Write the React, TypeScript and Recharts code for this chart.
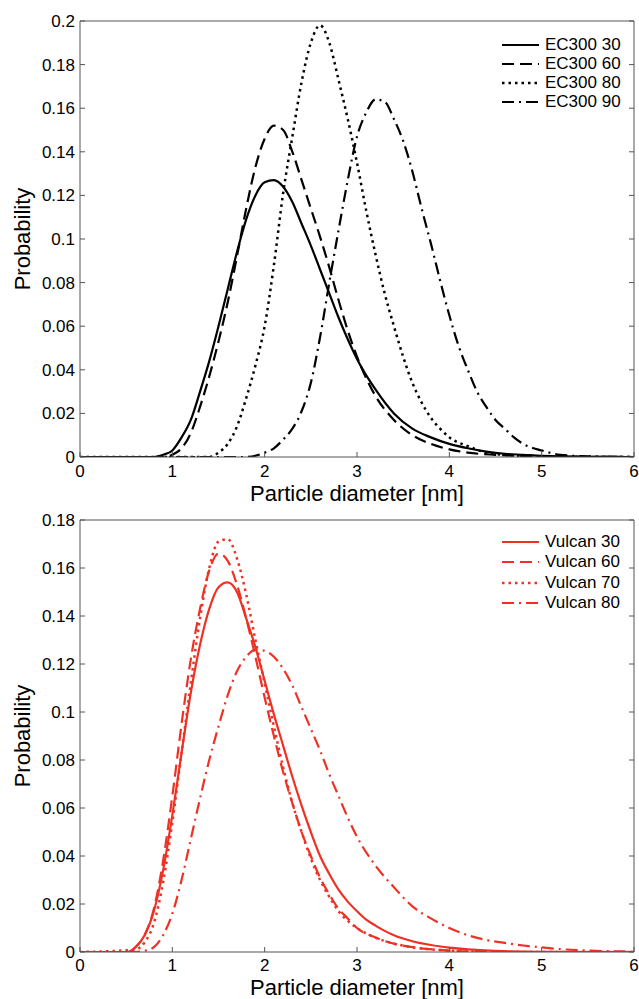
import { LineChart, Line, XAxis, YAxis, Legend, Label } from 'recharts';

const xTicks = [0, 1, 2, 3, 4, 5, 6];
const topYTicks = [0, 0.02, 0.04, 0.06, 0.08, 0.1, 0.12, 0.14, 0.16, 0.18, 0.2];
const bottomYTicks = [0, 0.02, 0.04, 0.06, 0.08, 0.1, 0.12, 0.14, 0.16, 0.18];

// EC300 series (top panel)
const ec30X = [0, 0.8, 0.9, 1.0, 1.1, 1.2, 1.3, 1.4, 1.5, 1.6, 1.7, 1.8, 1.9, 2.0, 2.1, 2.2, 2.3, 2.4, 2.5, 2.6, 2.7, 2.8, 2.9, 3.0, 3.2, 3.4, 3.6, 3.8, 4.0, 4.2, 4.4, 4.6, 4.8, 5.0, 5.5, 6];
const ec30Y = [0, 0, 0.001, 0.003, 0.009, 0.017, 0.03, 0.044, 0.06, 0.077, 0.094, 0.109, 0.12, 0.126, 0.127, 0.124, 0.117, 0.107, 0.097, 0.086, 0.075, 0.064, 0.054, 0.045, 0.031, 0.02, 0.013, 0.009, 0.006, 0.004, 0.0025, 0.0015, 0.001, 0.0005, 0.0001, 0];

const ec60X = [0, 0.9, 1.0, 1.1, 1.2, 1.3, 1.4, 1.5, 1.6, 1.7, 1.8, 1.9, 2.0, 2.1, 2.2, 2.3, 2.4, 2.5, 2.6, 2.7, 2.8, 2.9, 3.0, 3.2, 3.4, 3.6, 3.8, 4.0, 4.2, 4.5, 5.0, 6];
const ec60Y = [0, 0, 0.001, 0.004, 0.011, 0.023, 0.037, 0.053, 0.071, 0.092, 0.114, 0.133, 0.146, 0.152, 0.15, 0.14, 0.127, 0.114, 0.101, 0.087, 0.072, 0.058, 0.046, 0.028, 0.017, 0.01, 0.006, 0.0035, 0.002, 0.001, 0.0003, 0];

const ec80X = [0, 1.4, 1.5, 1.6, 1.7, 1.8, 1.9, 2.0, 2.1, 2.2, 2.3, 2.4, 2.5, 2.6, 2.7, 2.8, 2.9, 3.0, 3.1, 3.2, 3.3, 3.4, 3.5, 3.6, 3.7, 3.8, 3.9, 4.0, 4.2, 4.4, 4.6, 5.0, 6];
const ec80Y = [0, 0, 0.002, 0.006, 0.014, 0.027, 0.042, 0.06, 0.088, 0.121, 0.147, 0.172, 0.19, 0.198, 0.19, 0.173, 0.155, 0.135, 0.113, 0.093, 0.075, 0.06, 0.046, 0.034, 0.025, 0.018, 0.013, 0.009, 0.005, 0.002, 0.001, 0, 0];

const ec90X = [0, 1.8, 2.0, 2.1, 2.2, 2.3, 2.4, 2.5, 2.6, 2.7, 2.8, 2.9, 3.0, 3.1, 3.2, 3.3, 3.4, 3.5, 3.6, 3.7, 3.8, 3.9, 4.0, 4.1, 4.2, 4.3, 4.4, 4.5, 4.6, 4.7, 4.8, 5.0, 5.2, 5.5, 6];
const ec90Y = [0, 0, 0.002, 0.004, 0.008, 0.013, 0.021, 0.034, 0.055, 0.08, 0.104, 0.127, 0.147, 0.158, 0.164, 0.163, 0.155, 0.145, 0.131, 0.114, 0.098, 0.081, 0.065, 0.051, 0.04, 0.03, 0.023, 0.017, 0.013, 0.009, 0.006, 0.003, 0.001, 0.0003, 0];

// Vulcan series (bottom panel)
const vu30X = [0, 0.5, 0.6, 0.7, 0.8, 0.9, 1.0, 1.1, 1.2, 1.3, 1.4, 1.5, 1.6, 1.7, 1.8, 1.9, 2.0, 2.1, 2.2, 2.3, 2.4, 2.5, 2.6, 2.7, 2.8, 2.9, 3.0, 3.1, 3.2, 3.3, 3.4, 3.5, 3.6, 3.8, 4.0, 4.5, 5.0, 6];
const vu30Y = [0, 0, 0.002, 0.007, 0.017, 0.034, 0.057, 0.083, 0.108, 0.128, 0.143, 0.152, 0.154, 0.15, 0.139, 0.127, 0.113, 0.099, 0.086, 0.073, 0.061, 0.05, 0.04, 0.0325, 0.026, 0.021, 0.017, 0.0135, 0.011, 0.0088, 0.007, 0.0056, 0.0045, 0.0029, 0.0018, 0.0005, 0.0001, 0];

const vu60X = [0, 0.5, 0.6, 0.7, 0.8, 0.9, 1.0, 1.1, 1.2, 1.3, 1.4, 1.5, 1.6, 1.7, 1.8, 1.9, 2.0, 2.1, 2.2, 2.3, 2.4, 2.5, 2.6, 2.7, 2.8, 2.9, 3.0, 3.2, 3.4, 3.6, 4.0, 4.5, 6];
const vu60Y = [0, 0, 0.002, 0.007, 0.018, 0.038, 0.065, 0.095, 0.122, 0.143, 0.159, 0.166, 0.163, 0.153, 0.139, 0.123, 0.106, 0.09, 0.075, 0.062, 0.05, 0.04, 0.031, 0.024, 0.018, 0.014, 0.01, 0.006, 0.0035, 0.002, 0.0006, 0, 0];

const vu70X = [0, 0.6, 0.7, 0.8, 0.9, 1.0, 1.1, 1.2, 1.3, 1.4, 1.5, 1.6, 1.7, 1.8, 1.9, 2.0, 2.1, 2.2, 2.3, 2.4, 2.5, 2.6, 2.7, 2.8, 2.9, 3.0, 3.2, 3.4, 3.6, 4.0, 4.5, 6];
const vu70Y = [0, 0.001, 0.004, 0.012, 0.029, 0.054, 0.083, 0.112, 0.139, 0.16, 0.171, 0.172, 0.164, 0.149, 0.13, 0.112, 0.094, 0.077, 0.062, 0.05, 0.039, 0.03, 0.023, 0.017, 0.013, 0.01, 0.006, 0.0035, 0.002, 0.0006, 0, 0];

const vu80X = [0, 0.6, 0.7, 0.8, 0.9, 1.0, 1.1, 1.2, 1.3, 1.4, 1.5, 1.6, 1.7, 1.8, 1.9, 2.0, 2.1, 2.2, 2.3, 2.4, 2.5, 2.6, 2.7, 2.8, 2.9, 3.0, 3.2, 3.4, 3.6, 3.8, 4.0, 4.2, 4.4, 4.6, 4.8, 5.0, 5.2, 5.5, 6];
const vu80Y = [0, 0, 0.0005, 0.002, 0.007, 0.016, 0.03, 0.047, 0.064, 0.08, 0.094, 0.107, 0.117, 0.123, 0.126, 0.1255, 0.123, 0.118, 0.111, 0.102, 0.093, 0.084, 0.074, 0.065, 0.056, 0.048, 0.036, 0.027, 0.019, 0.014, 0.01, 0.007, 0.005, 0.0038, 0.0027, 0.0019, 0.0012, 0.0006, 0.0002];

const SOLID = undefined;
const DASHED = '12 6';
const DOTTED = '2.5 4';
const DASHDOT = '12 5 2 5';

const FONT = '"Liberation Sans", Arial, Helvetica, sans-serif';
const AXIS = '#555';
const TICK = 5;

type Series = { name: string; xs: number[]; ys: number[]; dash?: string };

const ecSeries: Series[] = [
  { name: 'EC300 30', xs: ec30X, ys: ec30Y, dash: SOLID },
  { name: 'EC300 60', xs: ec60X, ys: ec60Y, dash: DASHED },
  { name: 'EC300 80', xs: ec80X, ys: ec80Y, dash: DOTTED },
  { name: 'EC300 90', xs: ec90X, ys: ec90Y, dash: DASHDOT },
];

const vulcanSeries: Series[] = [
  { name: 'Vulcan 30', xs: vu30X, ys: vu30Y, dash: SOLID },
  { name: 'Vulcan 60', xs: vu60X, ys: vu60Y, dash: DASHED },
  { name: 'Vulcan 70', xs: vu70X, ys: vu70Y, dash: DOTTED },
  { name: 'Vulcan 80', xs: vu80X, ys: vu80Y, dash: DASHDOT },
];

const toPoints = (xs: number[], ys: number[]) => xs.map((x, i) => ({ x, y: ys[i] }));
const fmt = (v: number) => String(Number(v.toFixed(2)));

const LEFT_GAP = 5;

// inward (matlab style) ticks drawn together with the labels
const makeBottomTick = (gap: number) => ({ x, y, payload }: any) => (
  <g>
    <line x1={x} x2={x} y1={y - gap} y2={y - gap - TICK} stroke={AXIS} />
    <text x={x} y={y} dy="0.71em" textAnchor="middle" fontSize={17} fill="#000" fontFamily={FONT}>
      {fmt(payload.value)}
    </text>
  </g>
);

const topTick = ({ x, y }: any) => <line x1={x} x2={x} y1={y} y2={y + TICK} stroke={AXIS} />;

const leftTick = ({ x, y, payload }: any) => (
  <g>
    <line x1={x + LEFT_GAP} x2={x + LEFT_GAP + TICK} y1={y} y2={y} stroke={AXIS} />
    <text x={x} y={y} dy="0.355em" textAnchor="end" fontSize={17} fill="#000" fontFamily={FONT}>
      {fmt(payload.value)}
    </text>
  </g>
);

const rightTick = ({ x, y }: any) => <line x1={x} x2={x - TICK} y1={y} y2={y} stroke={AXIS} />;

function LegendList({ series, color, rowHeight }: { series: Series[]; color: string; rowHeight: number }) {
  return (
    <div style={{ fontFamily: FONT, fontSize: 17, color: '#000' }}>
      {series.map((s) => (
        <div key={s.name} style={{ display: 'flex', alignItems: 'center', height: rowHeight }}>
          <svg width={38} height={6} style={{ marginRight: 5 }}>
            <line x1={0} y1={3} x2={37} y2={3} stroke={color} strokeWidth={s.dash === DOTTED ? 2.5 : 2.2} strokeDasharray={s.dash} />
          </svg>
          <span style={{ whiteSpace: 'nowrap' }}>{s.name}</span>
        </div>
      ))}
    </div>
  );
}

interface PanelProps {
  series: Series[];
  color: string;
  yTicks: number[];
  height: number;
  marginTop: number;
  xAxisHeight: number;
  tickGap: number;
  titleOffset: number;
  legendTop: number;
  rowHeight: number;
}

function Panel({ series, color, yTicks, height, marginTop, xAxisHeight, tickGap, titleOffset, legendTop, rowHeight }: PanelProps) {
  const yMax = yTicks[yTicks.length - 1];
  return (
    <LineChart width={639} height={height} margin={{ top: marginTop, right: 4, bottom: 0, left: 0 }} style={{ fontFamily: FONT }}>
      <XAxis
        dataKey="x"
        type="number"
        domain={[0, 6]}
        ticks={xTicks}
        interval={0}
        allowDataOverflow
        height={xAxisHeight}
        stroke={AXIS}
        tickLine={false}
        tickSize={0}
        tickMargin={tickGap}
        tick={makeBottomTick(tickGap)}
      >
        <Label
          content={({ viewBox }: any) => (
            <text
              x={viewBox.x + viewBox.width / 2}
              y={viewBox.y + titleOffset}
              textAnchor="middle"
              fontSize={22}
              fill="#000"
              fontFamily={FONT}
            >
              Particle diameter [nm]
            </text>
          )}
        />
      </XAxis>
      <XAxis
        xAxisId="top"
        orientation="top"
        type="number"
        domain={[0, 6]}
        ticks={xTicks}
        interval={0}
        allowDataOverflow
        height={1}
        stroke={AXIS}
        tickLine={false}
        tickSize={0}
        tickMargin={0}
        tick={topTick}
      />
      <YAxis
        type="number"
        domain={[0, yMax]}
        ticks={yTicks}
        interval={0}
        allowDataOverflow
        width={80}
        stroke={AXIS}
        tickLine={false}
        tickSize={0}
        tickMargin={LEFT_GAP}
        tick={leftTick}
      >
        <Label
          content={({ viewBox }: any) => {
            const cy = viewBox.y + viewBox.height / 2;
            return (
              <text
                x={22}
                y={cy}
                transform={`rotate(-90, 22, ${cy})`}
                textAnchor="middle"
                dominantBaseline="central"
                fontSize={22}
                fill="#000"
                fontFamily={FONT}
              >
                Probability
              </text>
            );
          }}
        />
      </YAxis>
      <YAxis
        yAxisId="right"
        orientation="right"
        type="number"
        domain={[0, yMax]}
        ticks={yTicks}
        interval={0}
        allowDataOverflow
        width={1}
        stroke={AXIS}
        tickLine={false}
        tickSize={0}
        tickMargin={0}
        tick={rightTick}
      />
      {series.map((s) => (
        <Line
          key={s.name}
          data={toPoints(s.xs, s.ys)}
          dataKey="y"
          name={s.name}
          type="monotone"
          stroke={color}
          strokeWidth={s.dash === DOTTED ? 2.5 : 2.2}
          strokeDasharray={s.dash}
          dot={false}
          activeDot={false}
          isAnimationActive={false}
        />
      ))}
      <Legend
        layout="vertical"
        align="center"
        verticalAlign="middle"
        wrapperStyle={{ top: legendTop, left: 502, width: 132 }}
        content={() => <LegendList series={series} color={color} rowHeight={rowHeight} />}
      />
    </LineChart>
  );
}

export default function App() {
  return (
    <div style={{ position: 'absolute', left: 0, top: 0, width: 639, height: 999, overflow: 'hidden', background: '#fff' }}>
      <div style={{ position: 'absolute', left: 0, top: 0 }}>
        <Panel
          series={ecSeries}
          color="#000"
          yTicks={topYTicks}
          height={510}
          marginTop={20}
          xAxisHeight={53}
          tickGap={8}
          titleOffset={44}
          legendTop={35}
          rowHeight={19}
        />
      </div>
      <div style={{ position: 'absolute', left: 0, top: 510 }}>
        <Panel
          series={vulcanSeries}
          color="#ee3124"
          yTicks={bottomYTicks}
          height={489}
          marginTop={9}
          xAxisHeight={47}
          tickGap={7}
          titleOffset={43}
          legendTop={22}
          rowHeight={20.3}
        />
      </div>
    </div>
  );
}
